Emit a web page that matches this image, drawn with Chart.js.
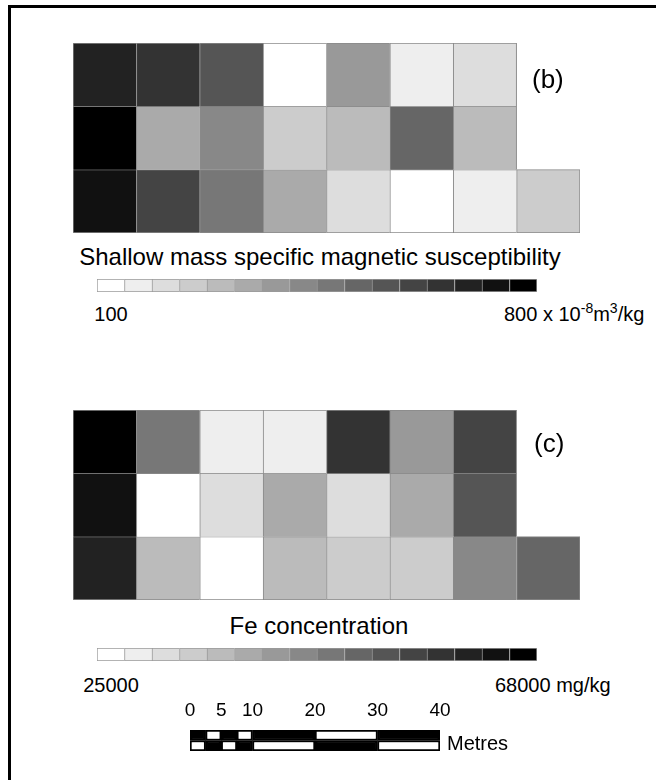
<!DOCTYPE html>
<html>
<head>
<meta charset="utf-8">
<style>
  html, body { margin: 0; padding: 0; background: #fff; overflow: hidden; }
  body { width: 656px; height: 780px; position: relative; font-family: "Liberation Sans", Arial, sans-serif; color: #000; }
  .frame { position: absolute; left: 8px; top: 5px; width: 760px; height: 900px; border: 3px solid #000; }
  canvas { position: absolute; }
  .t { position: absolute; white-space: nowrap; line-height: 1; }
  .c { transform: translateX(-50%); }
  .sup { font-size: 14px; position: relative; top: -8px; }
</style>
</head>
<body>
<div class="frame"></div>

<canvas id="gridB" width="507" height="190" style="left:73px;top:43px"></canvas>
<div class="t" style="font-size:26px;left:532px;top:66px">(b)</div>
<div class="t c" style="font-size:24px;left:320px;top:245px">Shallow mass specific magnetic susceptibility</div>
<canvas id="keyB" width="440" height="13" style="left:97px;top:279px"></canvas>
<div class="t c" id="lowB" style="font-size:20px;left:111px;top:304px"></div>
<div class="t" id="highB" style="font-size:20px;left:504px;top:304px"></div>

<canvas id="gridC" width="507" height="190" style="left:73px;top:410px"></canvas>
<div class="t" style="font-size:26px;left:534px;top:430px">(c)</div>
<div class="t c" style="font-size:24px;left:319px;top:614px">Fe concentration</div>
<canvas id="keyC" width="440" height="13" style="left:97px;top:648px"></canvas>
<div class="t c" id="lowC" style="font-size:20px;left:111px;top:675px"></div>
<div class="t" id="highC" style="font-size:20px;left:495px;top:675px"></div>

<canvas id="scaleBar" width="290" height="51" style="left:170px;top:700px"></canvas>
<div class="t" style="font-size:20px;left:447px;top:733px">Metres</div>

<script src="https://cdn.jsdelivr.net/npm/chart.js"></script>
<script>
  // sample grid columns, rows listed top to bottom, null = no sample
  const columns = ['1', '2', '3', '4', '5', '6', '7', '8'];

  // shallow mass specific magnetic susceptibility (x 10^-8 m3/kg)
  const suscRow1 = [705, 660, 565, 100, 380, 145, 195, null];
  const suscRow2 = [800, 335, 425, 240, 290, 520, 285, null];
  const suscRow3 = [755, 615, 475, 330, 195, 100, 150, 240];
  const suscMin = 100;
  const suscMax = 800;

  // Fe concentration (mg/kg)
  const feRow1 = [68000, 48000, 27900, 27800, 59400, 42200, 56500, null];
  const feRow2 = [65100, 25000, 30700, 39300, 30800, 39400, 53700, null];
  const feRow3 = [62300, 36500, 25000, 36400, 33600, 33700, 45000, 50800];
  const feMin = 25000;
  const feMax = 68000;

  // 16 grey classes of the colour keys
  const keyClasses = [0, 1, 2, 3, 4, 5, 6, 7, 8, 9, 10, 11, 12, 13, 14, 15];

  // scale bar, metres
  const scaleBreaks = [0, 2.5, 5, 7.5, 10, 20, 30, 40];
  const scaleTicks = [0, 5, 10, 20, 30, 40];

  function grey(k) {
    const g = 255 - 17 * Math.max(0, Math.min(15, k));
    return 'rgb(' + g + ',' + g + ',' + g + ')';
  }

  function shade(v, lo, hi) {
    return grey(Math.round((v - lo) / (hi - lo) * 15));
  }

  const base = {
    responsive: false,
    animation: false,
    events: [],
    layout: { padding: 0 },
    plugins: { legend: { display: false }, tooltip: { enabled: false } }
  };

  function gridChart(id, rows, lo, hi) {
    new Chart(document.getElementById(id), {
      type: 'bar',
      data: {
        labels: columns,
        datasets: rows.map((vals, r) => {
          const last = vals.map(v => v != null).lastIndexOf(true);
          return {
            data: vals.map(v => v == null ? null : [rows.length - 1 - r, rows.length - r]),
            backgroundColor: vals.map(v => v == null ? 'transparent' : shade(v, lo, hi)),
            borderColor: '#8a8a8a',
            borderWidth: ctx => ({
              top: 1, left: 1,
              right: ctx.dataIndex === last ? 1 : 0,
              bottom: r === rows.length - 1 ? 1 : 0
            }),
            borderSkipped: false,
            grouped: false,
            categoryPercentage: 1,
            barPercentage: 1
          };
        })
      },
      options: Object.assign({}, base, {
        scales: {
          x: { display: false },
          y: { display: false, min: 0, max: rows.length }
        }
      })
    });
  }

  function keyChart(id) {
    new Chart(document.getElementById(id), {
      type: 'bar',
      data: {
        labels: keyClasses,
        datasets: [{
          data: keyClasses.map(() => [0, 1]),
          backgroundColor: keyClasses.map(grey),
          borderColor: '#9a9a9a',
          borderWidth: ctx => ({
            top: 1, bottom: 1, left: 1,
            right: ctx.dataIndex === keyClasses.length - 1 ? 1 : 0
          }),
          borderSkipped: false,
          categoryPercentage: 1,
          barPercentage: 1
        }]
      },
      options: Object.assign({}, base, {
        scales: {
          x: { display: false },
          y: { display: false, min: 0, max: 1 }
        }
      })
    });
  }

  gridChart('gridB', [suscRow1, suscRow2, suscRow3], suscMin, suscMax);
  gridChart('gridC', [feRow1, feRow2, feRow3], feMin, feMax);
  keyChart('keyB');
  keyChart('keyC');

  document.getElementById('lowB').textContent = String(suscMin);
  document.getElementById('highB').innerHTML =
    suscMax + ' x 10<span class="sup">-8</span>m<span class="sup">3</span>/kg';
  document.getElementById('lowC').textContent = String(feMin);
  document.getElementById('highC').textContent = feMax + ' mg/kg';

  // scale bar: two rows of alternating black and white segments
  const segments = scaleBreaks.slice(0, -1).map((b, i) => ({
    data: [[b, scaleBreaks[i + 1]], [b, scaleBreaks[i + 1]]],
    backgroundColor: i % 2 === 0 ? ['#000', '#fff'] : ['#fff', '#000'],
    borderColor: '#000',
    borderWidth: 2,
    borderSkipped: false,
    grouped: false,
    categoryPercentage: 1,
    barPercentage: 1
  }));

  new Chart(document.getElementById('scaleBar'), {
    type: 'bar',
    data: { labels: ['upper', 'lower'], datasets: segments },
    options: Object.assign({}, base, {
      indexAxis: 'y',
      layout: { padding: { left: 20, right: 20, top: 0, bottom: 0 } },
      scales: {
        x: {
          type: 'linear',
          position: 'top',
          min: 0,
          max: 40,
          grid: { display: false, drawTicks: false },
          border: { display: false },
          afterBuildTicks: axis => { axis.ticks = scaleTicks.map(v => ({ value: v })); },
          afterFit: axis => { axis.height = 30; },
          ticks: {
            color: '#000',
            padding: 8,
            maxRotation: 0,
            font: { family: '"Liberation Sans", Arial, sans-serif', size: 19 }
          }
        },
        y: { display: false }
      }
    })
  });
</script>
</body>
</html>
